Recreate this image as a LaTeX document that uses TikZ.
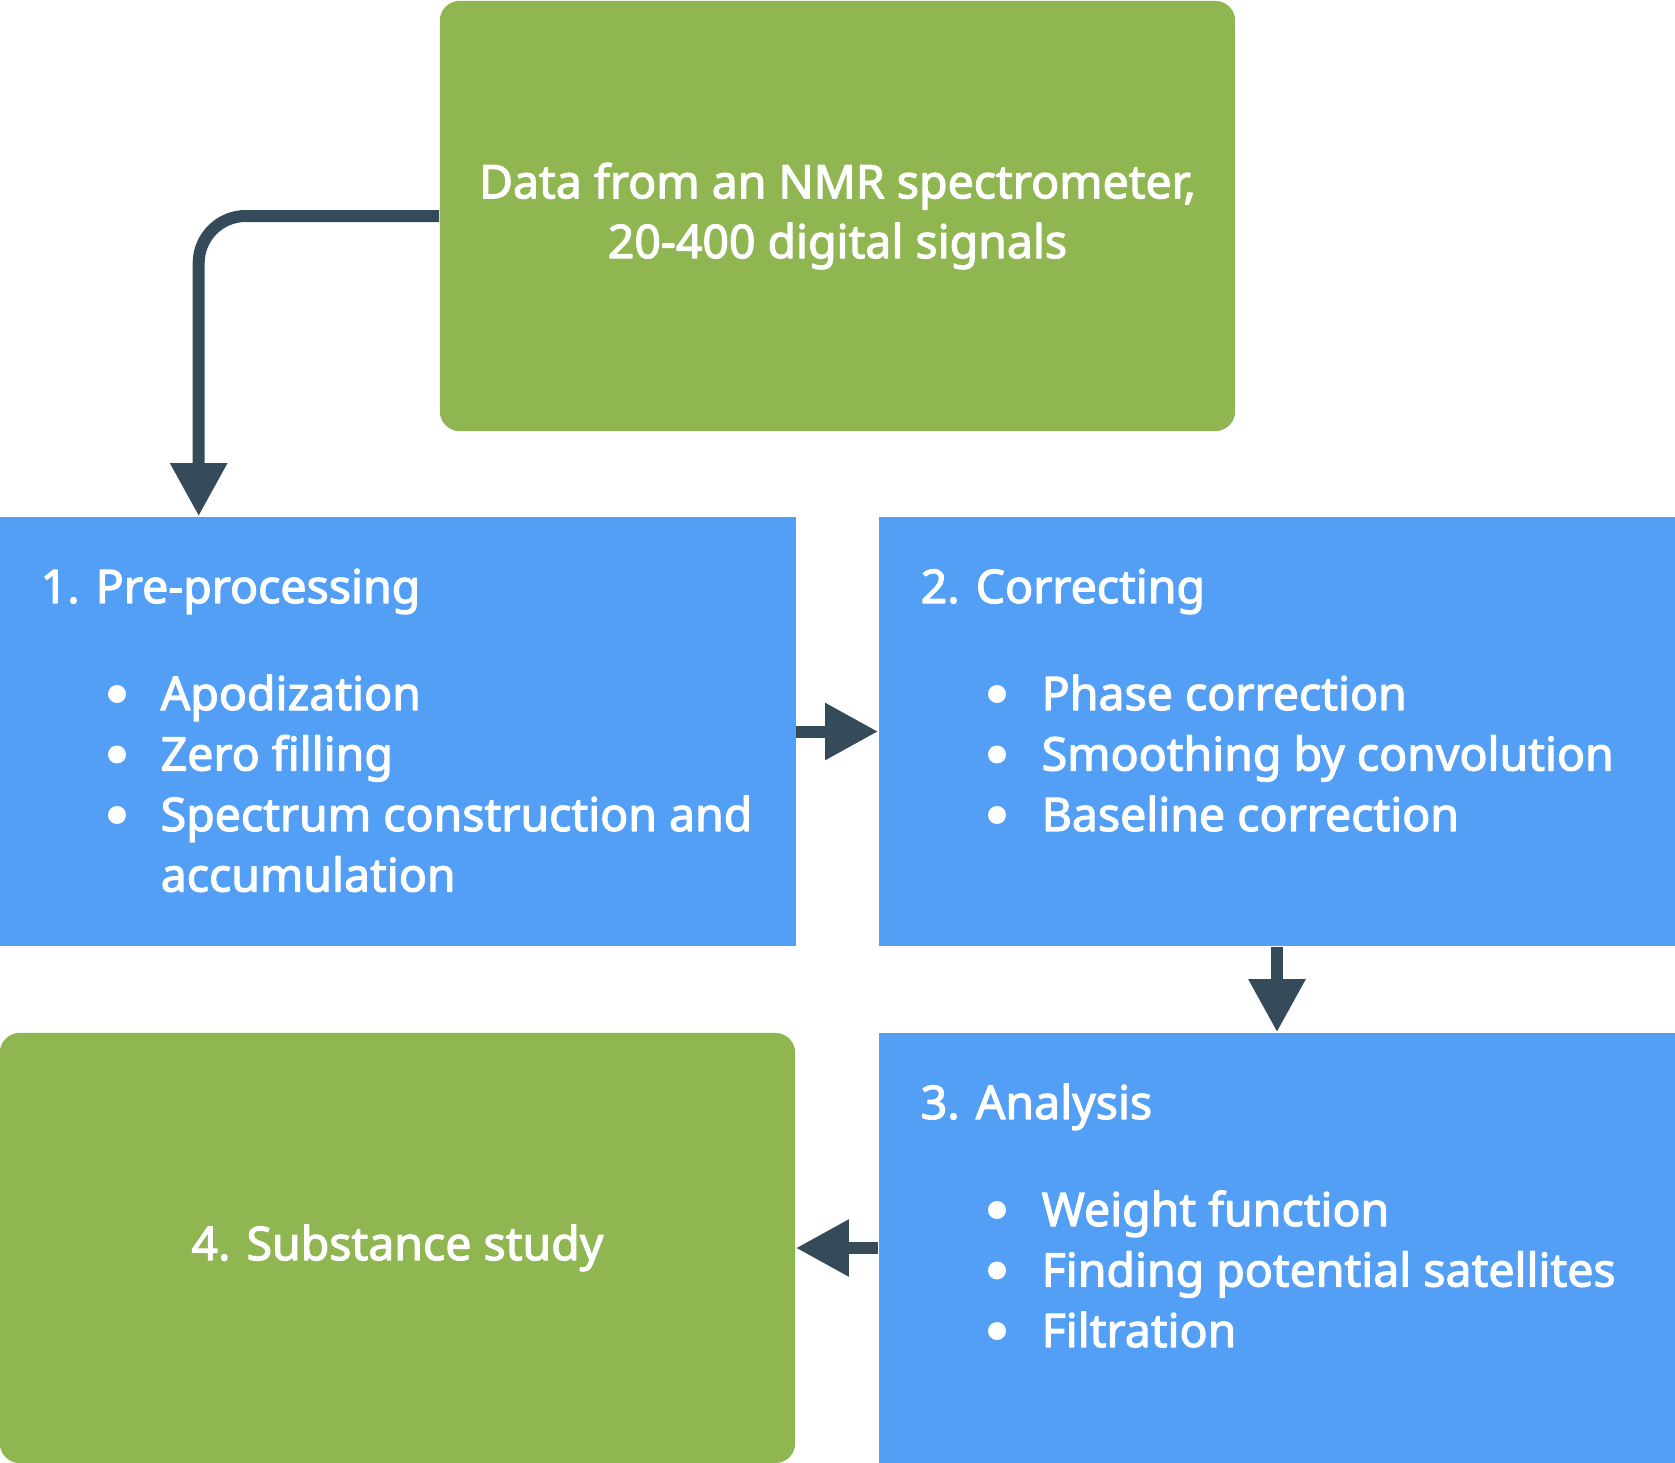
\documentclass[tikz,border=0pt]{standalone}
\usepackage{fontspec}
\setmainfont{Noto Sans}[FakeBold=2.5]
\usetikzlibrary{arrows.meta}
\definecolor{nmrgreen}{HTML}{8FB651}
\definecolor{nmrblue}{HTML}{539FF6}
\definecolor{nmrdark}{HTML}{354B59}
\begin{document}
\begin{tikzpicture}[x=0.01cm, y=-0.01cm, line join=round, >={Triangle[length=0.53cm,width=0.54cm]}]
\tikzset{every node/.style={font=\fontsize{13.2}{17}\selectfont, text=white, inner sep=0pt},
  greenbox/.style={fill=nmrgreen, rounded corners=0.2cm, minimum width=7.95cm, minimum height=4.3cm, align=center},
  bluebox/.style={fill=nmrblue, minimum width=7.96cm, minimum height=4.29cm},
  head/.style={anchor=base west},
  dot/.style={circle, fill=white, minimum size=0.18cm},
  link/.style={draw=nmrdark, line width=0.12cm, ->}}
\useasboundingbox (0,0) rectangle (1675,1463);
\node[greenbox] (data) at (837.5,216) {Data from an NMR spectrometer,\\20-400 digital signals};
\node[bluebox] (pre) at (397.5,731.5) {};
\node[bluebox] (cor) at (1277,731.5) {};
\node[bluebox, minimum height=4.3cm] (ana) at (1277,1248) {};
\node[greenbox] (study) at (397.5,1248) {4. Substance study};
\node[head] (preh) at (40,603) {1. Pre-processing};
\node[head] (corh) at (920,603) {2. Correcting};
\node[head] (anah) at (920,1119) {3. Analysis};
\foreach \txt [count=\i] in {Apodization,Zero filling,Spectrum construction and}{
  \node[dot] (predot\i) at (117,{694+60.5*(\i-1)}) {};
  \node[head] (pre\i) at (160,{710+60.5*(\i-1)}) {\txt};}
\node[head] (pre4) at (160,891.5) {accumulation};
\foreach \txt [count=\i] in {Phase correction,Smoothing by convolution,Baseline correction}{
  \node[dot] (cordot\i) at (997,{694+60.5*(\i-1)}) {};
  \node[head] (cor\i) at (1041,{710+60.5*(\i-1)}) {\txt};}
\foreach \txt [count=\i] in {Weight function,Finding potential satellites,Filtration}{
  \node[dot] (anadot\i) at (997,{1210+60.5*(\i-1)}) {};
  \node[head] (ana\i) at (1041,{1226+60.5*(\i-1)}) {\txt};}
\draw[link, rounded corners=0.47cm] (data.west) -| ([xshift=2cm]pre.north west);
\draw[link] (pre.east) -- (cor.west);
\draw[link] (cor.south) -- (ana.north);
\draw[link] (ana.west) -- (study.east);
\end{tikzpicture}
\end{document}
